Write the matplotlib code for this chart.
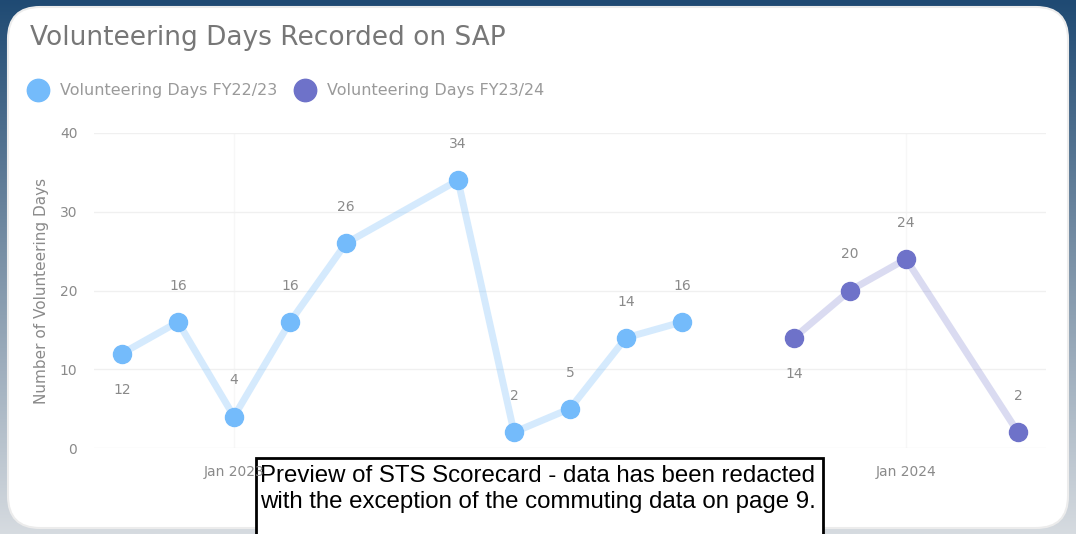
import numpy as np
import matplotlib
matplotlib.use('Agg')
import matplotlib.pyplot as plt
from matplotlib.patches import FancyBboxPatch, Rectangle

# ---------------------------------------------------------------------------
# dados
# ---------------------------------------------------------------------------
meses = ['Nov 2022', 'Dec 2022', 'Jan 2023', 'Feb 2023', 'Mar 2023', 'Apr 2023',
         'May 2023', 'Jun 2023', 'Jul 2023', 'Aug 2023', 'Sep 2023', 'Oct 2023',
         'Nov 2023', 'Dec 2023', 'Jan 2024', 'Feb 2024', 'Mar 2024']
idx_fy23 = [0, 1, 2, 3, 4, 6, 7, 8, 9, 10]
dias_fy23 = [12, 16, 4, 16, 26, 34, 2, 5, 14, 16]
idx_fy24 = [12, 13, 14, 16]
dias_fy24 = [14, 20, 24, 2]
labels_abaixo_fy23 = [0]     # rótulos que ficam abaixo do ponto
labels_abaixo_fy24 = [0]
ticks_x = [2, 14]            # o rótulo do meio fica escondido pela caixa de aviso
ticks_y = [0, 10, 20, 30, 40]

titulo = 'Volunteering Days Recorded on SAP'
serie1 = 'Volunteering Days FY22/23'
serie2 = 'Volunteering Days FY23/24'
nome_y = 'Number of Volunteering Days'
aviso = ('Preview of STS Scorecard - data has been redacted\n'
         'with the exception of the commuting data on page 9.')

cor1 = '#74BBFB'
cor2 = '#6E72C9'
cinza_txt = '#8a8a8a'

W, H = 1076, 534
fig = plt.figure(figsize=(W / 100, H / 100), dpi=100)

# fundo com degradê (moldura azul)
bg = fig.add_axes([0, 0, 1, 1])
grad = np.linspace(0, 1, 256).reshape(-1, 1)
cmap = matplotlib.colors.LinearSegmentedColormap.from_list('bg', ['#1f4a73', '#7d93a8', '#d6dbe0'])
bg.imshow(grad, aspect='auto', cmap=cmap, extent=[0, W, 0, H], origin='upper')
bg.set_xlim(0, W)
bg.set_ylim(0, H)
bg.axis('off')
card = FancyBboxPatch((8, 6), W - 16, H - 13, boxstyle='round,pad=0,rounding_size=32',
                      facecolor='white', edgecolor='#ececec', linewidth=1.5)
bg.add_patch(card)

# título e legenda
bg.text(30, H - 38, titulo, fontsize=19, color='#777777', va='center', ha='left')
bg.scatter([38], [H - 90], s=260, color=cor1, zorder=3)
bg.text(60, H - 90, serie1, fontsize=11.5, color='#9a9a9a', va='center')
bg.scatter([305], [H - 90], s=260, color=cor2, zorder=3)
bg.text(327, H - 90, serie2, fontsize=11.5, color='#9a9a9a', va='center')

# eixo principal
ax = fig.add_axes([94 / W, 1 - 448 / H, (1046 - 94) / W, (448 - 133) / H])
ax.set_facecolor('none')
ax.plot(idx_fy23, dias_fy23, color=cor1, alpha=0.3, linewidth=5, zorder=2)
ax.plot(idx_fy23, dias_fy23, 'o', color=cor1, markersize=13, zorder=3)
ax.plot(idx_fy24, dias_fy24, color=cor2, alpha=0.25, linewidth=5, zorder=2)
ax.plot(idx_fy24, dias_fy24, 'o', color=cor2, markersize=13, zorder=3)

for serie_i, serie_v, abaixo in [(idx_fy23, dias_fy23, labels_abaixo_fy23),
                                 (idx_fy24, dias_fy24, labels_abaixo_fy24)]:
    for k, (i, v) in enumerate(zip(serie_i, serie_v)):
        dy = -26 if k in abaixo else 26
        ax.annotate(str(v), (i, v), xytext=(0, dy), textcoords='offset points',
                    ha='center', va='center', fontsize=10, color=cinza_txt)

ax.set_xlim(-0.5, 16.5)
ax.set_ylim(0, 40)
ax.set_yticks(ticks_y)
ax.set_xticks(ticks_x)
ax.set_xticklabels([meses[i] for i in ticks_x])
ax.tick_params(length=0, colors=cinza_txt, labelsize=10)
ax.tick_params(axis='y', pad=12)
ax.tick_params(axis='x', pad=12)
ax.grid(axis='y', color='#f0f0f0', linewidth=1)
ax.grid(axis='x', color='#f7f7f7', linewidth=1)
for s in ax.spines.values():
    s.set_visible(False)
ax.set_ylabel(nome_y, fontsize=11, color='#8a8a8a', labelpad=8)

# caixa de aviso
bg.add_patch(Rectangle((256, -5), 823 - 256, H - 458 + 5, facecolor='white',
                       edgecolor='black', linewidth=2, zorder=10))
bg.text(260, H - 489, aviso, fontsize=17.3, family='Liberation Sans', color='black',
        va='center', ha='left', linespacing=1.2, zorder=11)

plt.savefig('out.png', dpi=100)
